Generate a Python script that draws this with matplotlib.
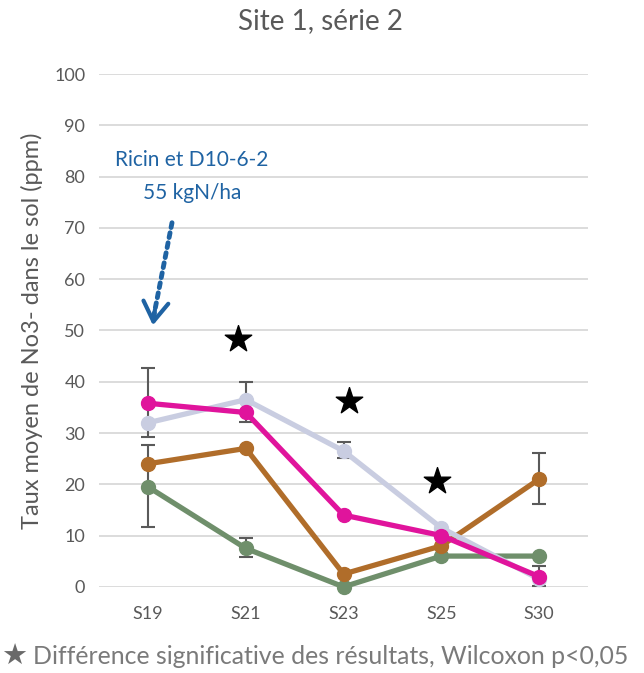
import numpy as np
import matplotlib.pyplot as plt

plt.rcParams['font.family'] = ['Lato', 'DejaVu Sans']

weeks = ["S19", "S21", "S23", "S25", "S30"]
pink = [35.8, 34.0, 14.0, 10.0, 2.0]
lavender = [32.0, 36.5, 26.5, 11.5, 1.5]
brown = [24.0, 27.0, 2.5, 8.0, 21.0]
green = [19.5, 7.5, 0.0, 6.0, 6.0]

# error bars (x index, centre, half width)
err_x = [0, 0, 1, 1, 2, 4, 4]
err_y = [36.0, 19.7, 36.1, 7.7, 26.7, 21.1, 2.1]
err_e = [6.7, 8.0, 3.9, 1.8, 1.6, 5.0, 2.0]

# significance stars
star_x = [0.92, 2.06, 2.96]
star_y = [48.3, 36.3, 20.7]

fig = plt.figure(figsize=(6.44, 6.73), dpi=100)
ax = fig.add_axes([0.154, 0.128, 0.759, 0.762])

x = np.arange(len(weeks))
ax.errorbar(err_x, err_y, yerr=err_e, fmt='none', ecolor='#5a5a5a',
            elinewidth=1.5, capsize=5, capthick=1.5, zorder=2)

for vals, col in [(green, '#6f8f6b'), (brown, '#b06d2a'),
                  (lavender, '#c9cde1'), (pink, '#e0149c')]:
    ax.plot(x, vals, color=col, lw=3.8, marker='o', ms=10,
            clip_on=False, zorder=3)

ax.scatter(star_x, star_y, marker='*', s=400, color='black', zorder=4)

ax.set_xlim(-0.5, 4.5)
ax.set_ylim(0, 100)
ax.set_yticks(range(0, 101, 10))
ax.set_xticks(x)
ax.set_xticklabels(weeks)
ax.tick_params(length=0, labelsize=13, labelcolor='#595959')
ax.tick_params(axis='y', pad=10)
ax.tick_params(axis='x', pad=14)
ax.grid(axis='y', color='#d9d9d9', lw=1.3)
ax.set_axisbelow(True)
for s in ax.spines.values():
    s.set_visible(False)

ax.set_ylabel("Taux moyen de No3- dans le sol (ppm)", fontsize=17,
              color='#595959', labelpad=8)
fig.text(0.497, 0.968, "Site 1, série 2", ha='center', va='center',
         fontsize=20, color='#595959')

blue = '#1f63a3'
ax.text(0.45, 83.3, "Ricin et D10-6-2", ha='center', va='center',
        fontsize=15, color=blue)
ax.text(0.45, 76.8, "55 kgN/ha", ha='center', va='center',
        fontsize=15, color=blue)
ax.annotate("", xy=(0.06, 53), xytext=(0.245, 71),
            arrowprops=dict(arrowstyle='-', color=blue, lw=3.5,
                            linestyle=(0, (1, 1.1)), shrinkA=0, shrinkB=0))
ax.annotate("", xy=(0.05, 51), xytext=(0.07, 54),
            arrowprops=dict(arrowstyle='->,head_length=0.7,head_width=0.45',
                            color=blue, lw=3, shrinkA=0, shrinkB=0,
                            mutation_scale=20))

fig.text(0.002, 0.024, "★", ha='left', va='center', fontsize=21,
         color='#6a6a6a', family=['DejaVu Sans'])
fig.text(0.052, 0.024, "Différence significative des résultats, Wilcoxon p<0,05",
         ha='left', va='center', fontsize=17.9, color='#7a7a7a')

fig.savefig("out.png", dpi=100)
